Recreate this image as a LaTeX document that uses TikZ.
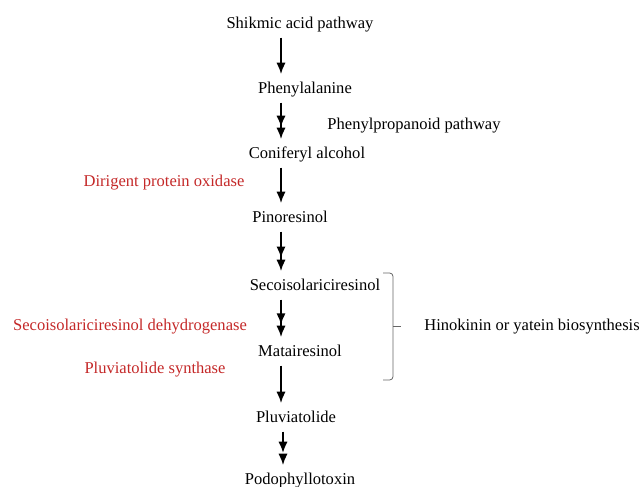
\documentclass[tikz,border=0pt]{standalone}
\usepackage{fontspec}
\setmainfont{Liberation Serif}
\usepackage{tikz}
\usetikzlibrary{arrows.meta,decorations.markings}
\definecolor{enzymered}{RGB}{196,40,40}

\begin{document}
\begin{tikzpicture}[x=0.75pt, y=-0.75pt]
        \tikzstyle{compound} = [anchor=base, inner sep=1pt, text height=9pt, text depth=3pt, font=\rmfamily\fontsize{12.4}{14}\selectfont]
        \tikzstyle{enzyme} = [compound, text=enzymered]
        \tikzstyle{line} = [draw, -{Latex[length=8.5pt,width=7pt]}, line width=1.4pt, shorten <=3pt, shorten >=4pt]
        \tikzstyle{double} = [line, postaction={decorate}, decoration={markings, mark=at position 0.62 with {\arrow{Latex[length=8.5pt,width=7pt]}}}]
        \tikzstyle{bracket} = [draw=black!60, line width=0.6pt, rounded corners=2.5pt]
    \useasboundingbox (0,0) rectangle (642,486);
    \coordinate (axis) at (281,0);

    \node [compound] (shikimic) at (300,28) {Shikmic acid pathway};
    \node [compound] (phenylalanine) at (305,93) {Phenylalanine};
    \node [compound] (propanoid) at (414,129) {Phenylpropanoid pathway};
    \node [compound] (coniferyl) at (307,158) {Coniferyl alcohol};
    \node [enzyme] (dirigent) at (164,186) {Dirigent protein oxidase};
    \node [compound] (pinoresinol) at (290,222) {Pinoresinol};
    \node [compound] (secoiso) at (315,290) {Secoisolariciresinol};
    \node [enzyme] (dehydrogenase) at (130,330) {Secoisolariciresinol dehydrogenase};
    \node [compound] (matairesinol) at (300,356) {Matairesinol};
    \node [enzyme] (synthase) at (155,373) {Pluviatolide synthase};
    \node [compound] (hinokinin) at (532,330) {Hinokinin or yatein biosynthesis};
    \node [compound] (pluviatolide) at (296,422) {Pluviatolide};
    \node [compound] (podophyllotoxin) at (300,484) {Podophyllotoxin};

    \path [line] (shikimic.south -| axis) -- (phenylalanine.north -| axis);
    \path [double] (phenylalanine.south -| axis) -- (coniferyl.north -| axis);
    \path [line] (coniferyl.south -| axis) -- (pinoresinol.north -| axis);
    \path [double] (pinoresinol.south -| axis) -- (secoiso.north -| axis);
    \path [double] (secoiso.south -| axis) -- (matairesinol.north -| axis);
    \path [line] (matairesinol.south -| axis) -- (pluviatolide.north -| axis);

    % two short steps down to podophyllotoxin
    \coordinate (split1) at (283,453);
    \coordinate (split2) at (283,457);
    \path [line, shorten >=0pt] (pluviatolide.south -| split1) -- (split1);
    \path [line, shorten <=0pt] (split2) -- (podophyllotoxin.north -| split2);

    % bracket for the hinokinin branch
    \coordinate (btop) at (383,273);
    \coordinate (bbot) at (383,380);
    \coordinate (btip) at (401,326);
    \path [bracket] (btop) -- (393,273) -- (393,380) -- (bbot);
    \path [bracket] (393,326) -- (btip);
\end{tikzpicture}
\end{document}
